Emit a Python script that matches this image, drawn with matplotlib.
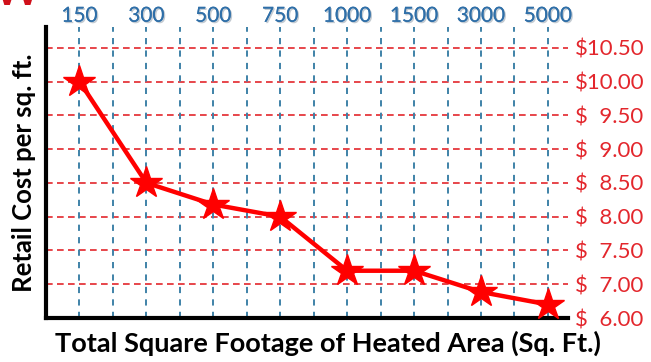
import numpy as np
import matplotlib
matplotlib.use("Agg")
from matplotlib import pyplot as plt
from matplotlib import patheffects

plt.rcParams["font.family"] = ["Lato", "DejaVu Sans"]

# heated area categories and retail cost per square foot
area_labels = ["150", "300", "500", "750", "1000", "1500", "3000", "5000"]
cost_per_sqft = [10.00, 8.50, 8.18, 8.00, 7.20, 7.20, 6.77, 6.40]

# uneven price axis: evenly spaced steps carrying these values
price_ticks = [6.00, 7.00, 7.50, 8.00, 8.50, 9.00, 9.50, 10.00, 10.50]

RED = "#ff0000"
LABEL_RED = "#e3262c"
BLUE = "#2f6fa8"
GRID_BLUE = "#3f82a8"

# piecewise-linear mapping from price to step index (extended at both ends)
_vals = np.array([5.0] + price_ticks + [11.5])
_idx = np.arange(-1, len(price_ticks) + 1, dtype=float)


def forward(v):
    return np.interp(v, _vals, _idx)


def inverse(i):
    return np.interp(i, _idx, _vals)


def price_label(v):
    if v >= 10:
        return f"${v:.2f}"
    return f"$  {v:.2f}"


fig = plt.figure(figsize=(6.51, 3.62), dpi=100)
ax = fig.add_axes([0.0707, 0.1215, 0.8018, 0.8035])
ax.set_yscale("function", functions=(forward, inverse))

x = np.arange(len(area_labels))
ax.plot(x, cost_per_sqft, color=RED, lw=3.2, marker="*", ms=24,
        mec=RED, mfc=RED, clip_on=False, zorder=5)

ax.set_xlim(-0.5, len(area_labels) - 0.7)
ax.set_ylim(price_ticks[0], inverse(8.61))

# grid: red dashed rows at each price step, blue dashed columns every half step
for p in price_ticks[1:]:
    ax.axhline(p, color=LABEL_RED, lw=1.2, ls=(0, (4, 2.6)), zorder=1)
for xv in np.arange(0, len(area_labels) - 0.4, 0.5):
    ax.axvline(xv, color=GRID_BLUE, lw=1.4, ls=(0, (3.2, 3.2)), zorder=1)

ax.xaxis.tick_top()
ax.set_xticks(x)
ax.set_xticklabels(area_labels)
ax.tick_params(axis="x", length=0, pad=1, labelsize=15, labelcolor=BLUE)
for t in ax.get_xticklabels():
    t.set_path_effects([patheffects.withSimplePatchShadow(
        offset=(1, -1), shadow_rgbFace="#7a8a99", alpha=0.45), patheffects.Normal()])

ax.yaxis.tick_right()
ax.set_yticks(price_ticks)
ax.set_yticklabels([price_label(p) for p in price_ticks])
ax.yaxis.set_minor_locator(matplotlib.ticker.NullLocator())
ax.tick_params(axis="y", length=0, pad=5, labelsize=16, labelcolor=LABEL_RED)

for side in ("top", "right"):
    ax.spines[side].set_visible(False)
for side in ("left", "bottom"):
    ax.spines[side].set_linewidth(3)
    ax.spines[side].set_color("black")

ax.set_ylabel("Retail Cost per sq. ft.", fontsize=18.5, fontweight="bold", labelpad=7)
ax.set_xlabel("Total Square Footage of Heated Area (Sq. Ft.)", fontsize=19.5,
              fontweight="bold")
ax.xaxis.set_label_position("bottom")
ax.xaxis.set_label_coords(0.54, -0.045, transform=ax.transAxes)
ax.xaxis.label.set_va("top")

# tail of the page heading, mostly cut off above the figure
fig.text(-0.01, 0.986, "W", color="#d0101a", fontsize=32, fontweight="bold",
         va="baseline", ha="left")

fig.savefig("out.png", dpi=100)
